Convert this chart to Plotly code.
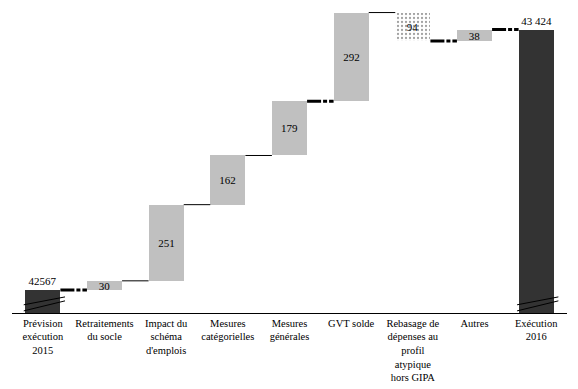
import plotly.graph_objects as go

# ---- data ----
categories = [
    "Prévision<br>exécution<br>2015",
    "Retraitements<br>du socle",
    "Impact du<br>schéma<br>d'emplois",
    "Mesures<br>catégorielles",
    "Mesures<br>générales",
    "GVT solde",
    "Rebasage de<br>dépenses au<br>profil<br>atypique<br>hors GIPA",
    "Autres",
    "Exécution<br>2016",
]
start_value = 42567
end_value = 43424
steps = [30, 251, 162, 179, 292, -94, 38]
labels = ["42567", "30", "251", "162", "179", "292", "94", "38", "43 424"]

AXIS_FLOOR = 42491   # broken axis: bars for totals start here
AXIS_TOP = 43496

# ---- style ----
SERIF = "Liberation Serif"
DARK = "#333333"
GREY = "#c0c0c0"
BAR_W = 0.57
thick_conn = [True, False, False, False, True, False, True, True]

# ---- build bars ----
bases, heights, colors, patterns, textpos = [], [], [], [], []
bases.append(AXIS_FLOOR); heights.append(start_value - AXIS_FLOOR)
colors.append(DARK); patterns.append(""); textpos.append("outside")
levels = [start_value]
level = start_value
for s in steps:
    if s >= 0:
        bases.append(level); heights.append(s)
        colors.append(GREY); patterns.append("")
    else:
        bases.append(level + s); heights.append(-s)
        colors.append("white"); patterns.append(".")
    textpos.append("inside")
    level += s
    levels.append(level)
bases.append(AXIS_FLOOR); heights.append(end_value - AXIS_FLOOR)
colors.append(DARK); patterns.append(""); textpos.append("outside")

x_idx = list(range(len(categories)))

fig = go.Figure()
fig.add_trace(go.Bar(
    x=x_idx, y=heights, base=bases, width=BAR_W,
    marker=dict(color=colors, line=dict(width=0),
                pattern=dict(shape=patterns, fgcolor="black", bgcolor="white",
                             size=4, solidity=0.25)),
    text=labels, textposition=textpos, insidetextanchor="middle",
    textangle=0, constraintext="none", cliponaxis=False,
    textfont=dict(family=SERIF, size=11, color="black"),
    insidetextfont=dict(family=SERIF, size=11, color="black"),
    outsidetextfont=dict(family=SERIF, size=11, color="black"),
    hoverinfo="skip",
))

shapes = []
# connectors
for i in range(len(categories) - 1):
    lvl = levels[i]
    thick = thick_conn[i]
    shapes.append(dict(
        type="line", xref="x", yref="y",
        x0=i + BAR_W / 2, x1=i + 1 - BAR_W / 2, y0=lvl, y1=lvl,
        line=dict(color="black", width=3 if thick else 1,
                  dash="14px,2px,4px,2px" if thick else "solid"),
    ))

# axis break marks on total bars
for i in (0, len(categories) - 1):
    for dy in (0, 20):
        shapes.append(dict(
            type="line", xref="x", yref="y",
            x0=i - 0.31, x1=i + 0.36,
            y0=AXIS_FLOOR + 7 + dy, y1=AXIS_FLOOR + 40 + dy * 0.65,
            line=dict(color="black", width=1),
        ))

fig.update_layout(
    width=562, height=379,
    margin=dict(l=4, r=3, t=0, b=74, autoexpand=False),
    paper_bgcolor="white", plot_bgcolor="white",
    showlegend=False, bargap=0,
    font=dict(family=SERIF, size=10.5, color="black"),
    shapes=shapes,
    xaxis=dict(
        tickmode="array", tickvals=x_idx, ticktext=categories,
        range=[-0.5, len(categories) - 0.5],
        showline=True, linecolor="black", linewidth=1,
        ticks="", showgrid=False, zeroline=False, automargin=False,
        tickfont=dict(family=SERIF, size=10.5, color="black"),
        fixedrange=True,
    ),
    yaxis=dict(
        range=[AXIS_FLOOR, AXIS_TOP], visible=False, showgrid=False,
        zeroline=False, fixedrange=True, automargin=False,
    ),
)

fig.write_html("out.html")
